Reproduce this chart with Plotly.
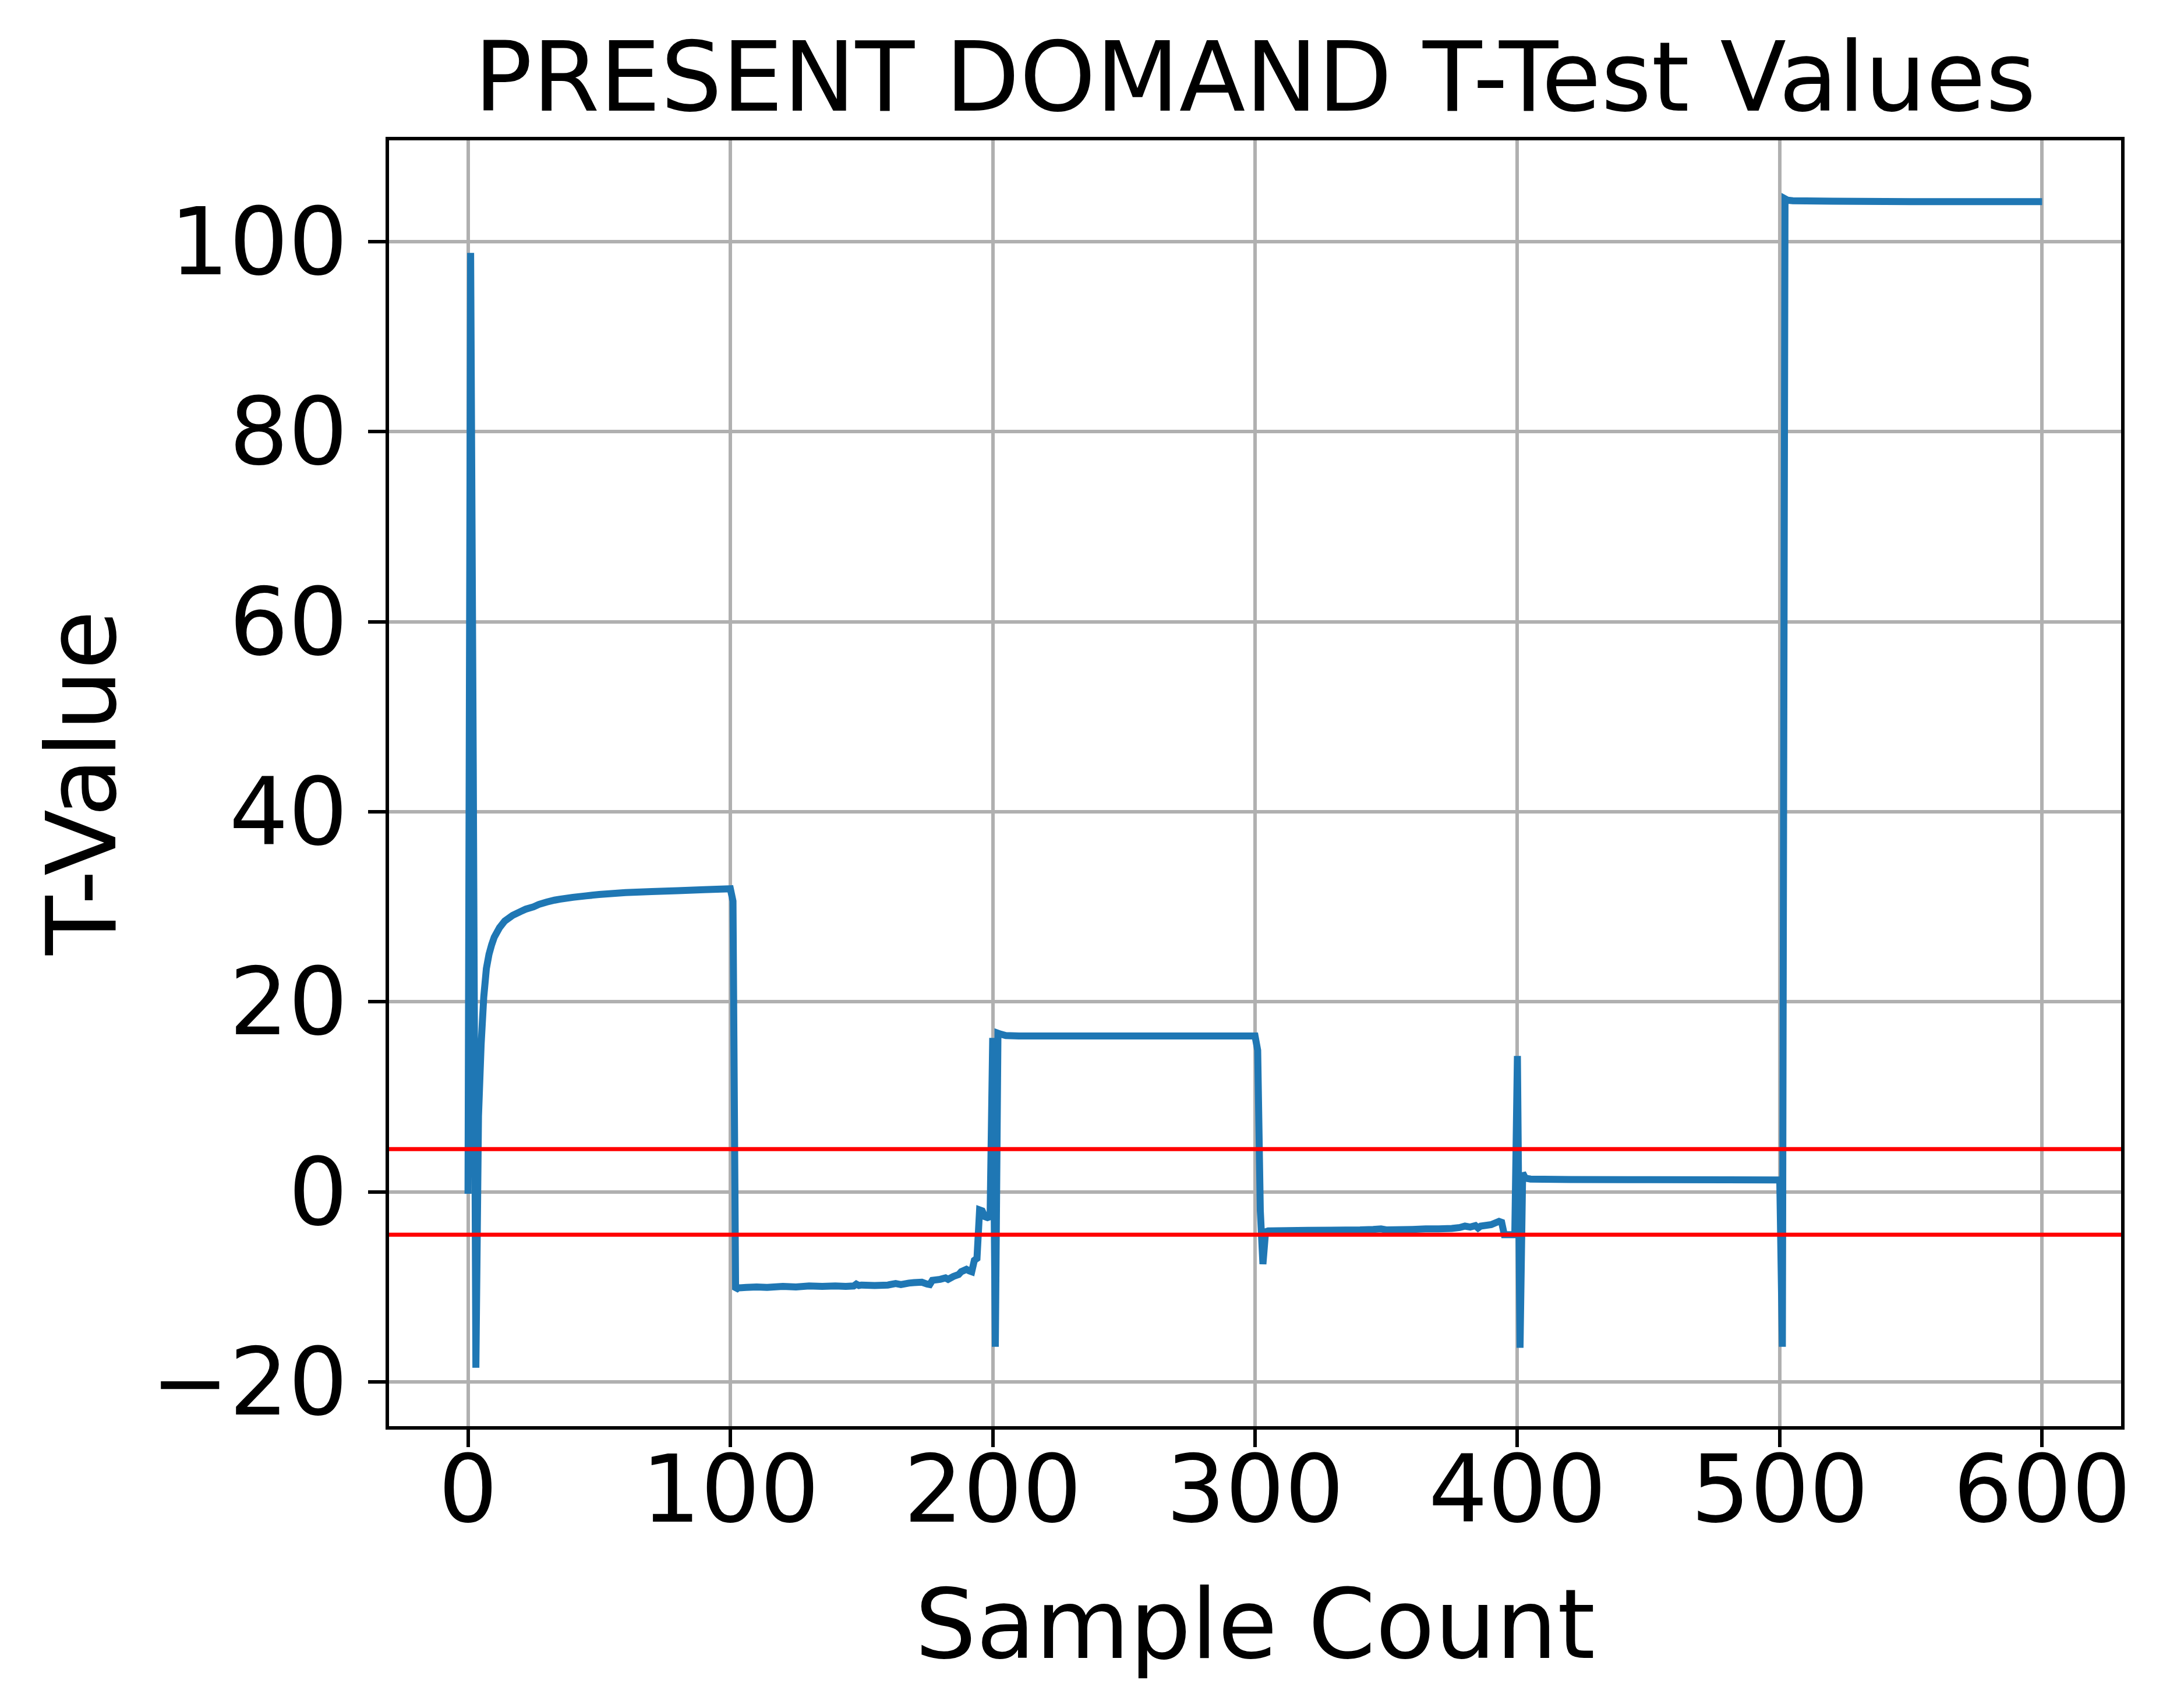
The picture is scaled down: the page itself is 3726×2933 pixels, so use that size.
import plotly.graph_objects as go

# sample index / t-value pairs
sample = [0, 1, 2, 3, 4, 5, 6, 7, 8, 9, 10, 12, 14, 17, 20, 22, 25, 27, 30, 33, 35, 40, 45, 50,
          60, 70, 80, 90, 100, 101,
          102, 103, 106, 110, 114, 120, 125, 130, 135, 140, 144, 147, 148, 149, 150, 155, 160,
          163, 165, 168, 170, 173, 175, 176, 177, 180, 182, 183, 185, 187, 188, 190, 191,
          192, 193, 194, 195, 196, 197, 198, 199,
          200, 201, 202, 203, 205, 210, 220, 250, 280, 300, 301,
          302, 303, 304, 305, 320, 340, 345, 348, 350, 360, 365, 370, 375, 378,
          380, 382, 384, 385, 386, 390, 393, 394, 395, 396, 397, 398, 399,
          400, 401, 402, 403, 405, 420, 450, 480, 500,
          501, 502, 503, 505, 520, 550, 600]
tvalue = [-0.2, 98.8, 45.0, -18.5, 8.0, 15.5, 20.5, 23.5, 25.0, 26.0, 26.8, 27.8, 28.5, 29.1, 29.5, 29.75, 30.0, 30.25, 30.5, 30.7, 30.8, 31.0, 31.15, 31.3,
          31.5, 31.6, 31.7, 31.8, 31.9, 30.6,
          -10.3, -10.1, -10.05, -10.0, -10.05, -9.95, -10.0, -9.9, -9.95, -9.9, -9.95, -9.9, -9.7, -9.85, -9.8, -9.85, -9.8,
          -9.65, -9.75, -9.6, -9.55, -9.5, -9.7, -9.75, -9.3, -9.2, -9.05, -9.2, -8.9, -8.7, -8.4, -8.15, -8.3,
          -8.4, -7.2, -7.0, -1.9, -2.0, -2.6, -2.7, -2.6,
          16.2, -16.3, 16.7, 16.6, 16.45, 16.4, 16.4, 16.4, 16.4, 16.4, 14.9,
          -2.0, -7.6, -4.2, -4.1, -4.05, -4.0, -3.95, -3.9, -4.0, -3.95, -3.9, -3.9, -3.85, -3.75,
          -3.6, -3.7, -3.55, -3.8, -3.6, -3.45, -3.1, -3.2, -4.5, -4.5, -4.5, -4.5, -4.5,
          14.3, -16.4, 2.0, 1.45, 1.35, 1.3, 1.28, 1.27, 1.25,
          -16.3, 104.5, 104.35, 104.3, 104.25, 104.2, 104.2]

threshold = [4.5, -4.5]
x_ticks = [0, 100, 200, 300, 400, 500, 600]
y_ticks = [-20, 0, 20, 40, 60, 80, 100]

fig = go.Figure()
fig.add_trace(go.Scatter(x=sample, y=tvalue, mode='lines',
                         line=dict(color='#1f77b4', width=12, simplify=False),
                         showlegend=False))

for t in threshold:
    fig.add_hline(y=t, line=dict(color='red', width=7))

axis_style = dict(showline=True, mirror=True, linecolor='black', linewidth=6,
                  ticks='outside', ticklen=30, tickwidth=6, tickcolor='black',
                  showgrid=True, gridcolor='#b0b0b0', gridwidth=6,
                  zeroline=False, tickfont=dict(size=160, color='black'))

fig.update_layout(
    width=3726, height=2933, autosize=False,
    margin=dict(l=660, r=92, t=233, b=492),
    paper_bgcolor='white', plot_bgcolor='white',
    font=dict(family='DejaVu Sans', size=166, color='black'),
    title=dict(text='PRESENT DOMAND T-Test Values', x=0.5, xref='paper',
               y=1, yref='paper', yanchor='bottom', pad=dict(b=51),
               font=dict(size=166, color='black')),
    xaxis=dict(range=[-30.1, 630.1], tickvals=x_ticks, ticklabelstandoff=-64,
               title=dict(text='Sample Count', standoff=83, font=dict(size=166)),
               **axis_style),
    yaxis=dict(range=[-24.65, 110.65], tickvals=y_ticks, ticklabelstandoff=3,
               **axis_style),
)

# y axis title as an annotation so it can sit where the reference has it
fig.add_annotation(text='T-Value', textangle=-90, xref='paper', yref='paper',
                   x=-0.1775, y=0.5, xanchor='center', yanchor='middle',
                   showarrow=False, font=dict(size=166, color='black'))

fig.write_html("out.html")
